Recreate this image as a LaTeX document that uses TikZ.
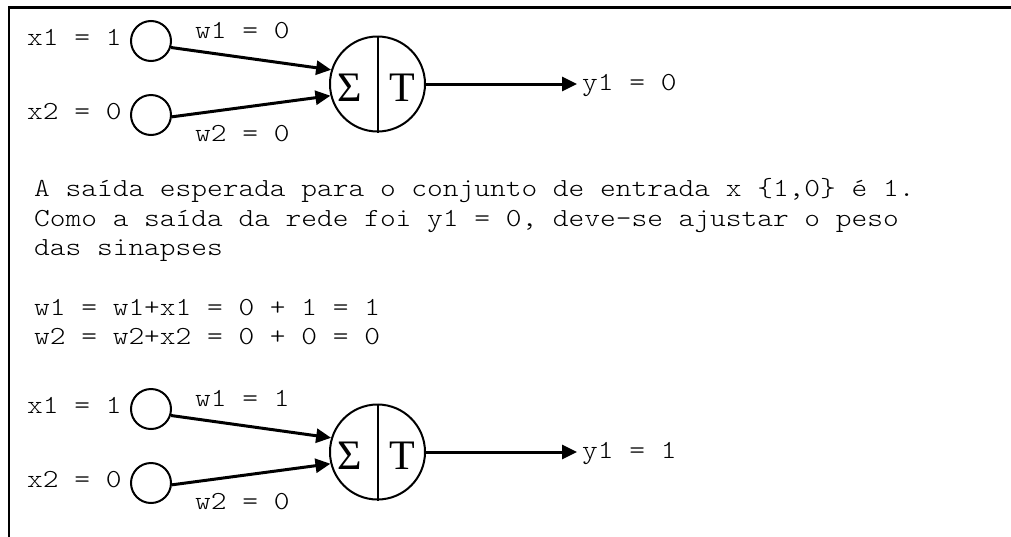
\documentclass[tikz,border=0pt]{standalone}
\usepackage{fontspec}
\setmainfont{Liberation Serif}
\newfontfamily\monofnt[FakeStretch=1.1516]{Latin Modern Mono Light}
\usetikzlibrary{arrows.meta}
\begin{document}
\frenchspacing
\begin{tikzpicture}[x=1pt,y=-1pt,
  lab/.style={font=\monofnt\fontsize{26}{29.7}\selectfont, inner sep=0pt, anchor=base west},
  inp/.style={circle, draw, line width=2pt, minimum size=40pt, inner sep=0pt},
  neur/.style={circle, draw, line width=2pt, minimum size=95pt, inner sep=0pt},
  sym/.style={font=\fontsize{42}{42}\selectfont, inner sep=0pt, anchor=base},
  conn/.style={line width=3pt, -{Triangle[length=15pt,width=14pt]}},
  frame/.style={line width=2.5pt}
]
\useasboundingbox (0,0) rectangle (1011,536);
\draw[frame] (9,545) -- (9,7.3) -- (1020,7.3);

\foreach \g/\dy/\w/\y in {a/0/0/0, b/368/1/1}{
  \begin{scope}[yshift=-\dy pt]
    \node[inp] (i1\g) at (151,41) {};
    \node[inp] (i2\g) at (151,115) {};
    \node[neur] (n\g) at (377.5,84) {};
    \draw[line width=2pt] (n\g.north) -- (n\g.south);
    \node[sym] (s\g) at (350,101) {Σ};
    \node[sym] (t\g) at (402,101) {T};
    \node[lab] (x1\g) at (27,45) {x1 = 1};
    \node[lab] (x2\g) at (27,119) {x2 = 0};
    \node[lab] (w1\g) at (195,38) {w1 = \w};
    \node[lab] (w2\g) at (195,141) {w2 = 0};
    \coordinate (o\g) at (577,84);
    \node[lab] (y\g) at (582,90) {y1 = \y};
    \draw[conn] (i1\g.-18) -- (n\g.163.7);
    \draw[conn] (i2\g.-5) -- (n\g.194.2);
    \draw[conn] (n\g.east) -- (o\g);
  \end{scope}
}

\node[lab] (t1) at (34,196.5) {A saída esperada para o conjunto de entrada x \{1,0\} é 1.};
\node[lab] (t2) at (34,226) {Como a saída da rede foi y1 = 0, deve-se ajustar o peso};
\node[lab] (t3) at (34,255.5) {das sinapses};
\node[lab] (t4) at (34,315) {w1 = w1+x1 = 0 + 1 = 1};
\node[lab] (t5) at (34,344.5) {w2 = w2+x2 = 0 + 0 = 0};
\end{tikzpicture}
\end{document}
